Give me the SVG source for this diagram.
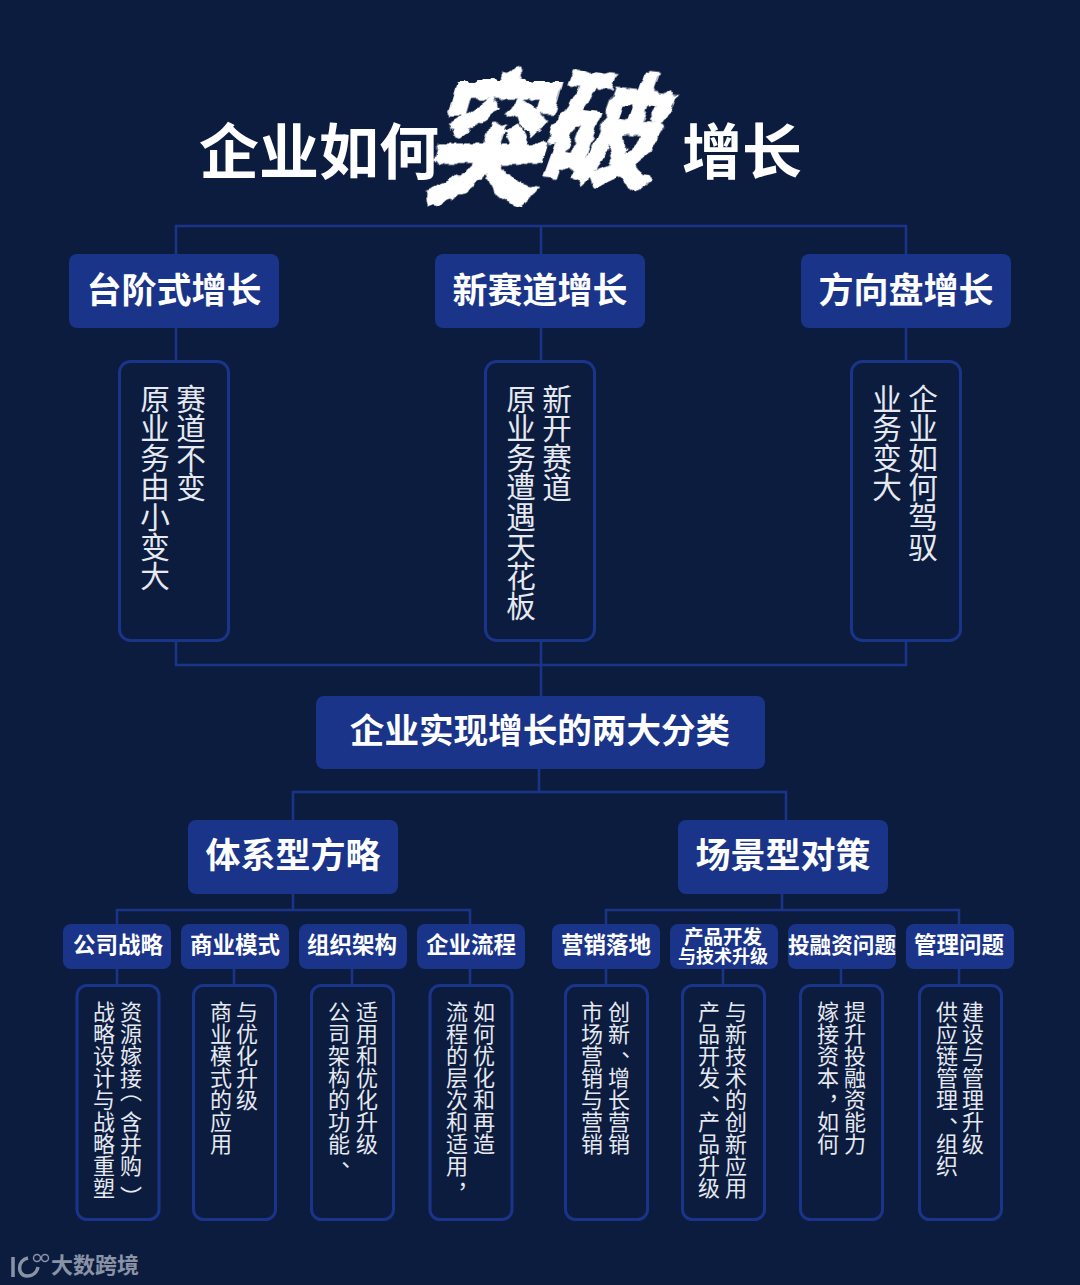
<svg xmlns="http://www.w3.org/2000/svg" width="1080" height="1285" viewBox="0 0 1080 1285">
<style>
text{font-family:"Noto Sans CJK SC","Noto Sans",sans-serif;fill:#fff}
.t{font-weight:700;text-anchor:middle;dominant-baseline:central}
.n{fill:#1a3489}
.b{fill:none;stroke:#1a3489;stroke-width:3}
.c{fill:none;stroke:#1a3489;stroke-width:2.5}
.v{writing-mode:vertical-rl;fill:#e6e9f0}
.big{font-size:29.6px}
.sm{font-size:22px}
.h1{font-size:60px}.h2{font-size:35px}.h3{font-size:22.5px}
.brush{stroke:#fff;stroke-width:3;filter:url(#rough)}
</style>
<defs>
<filter id="rough" x="-20%" y="-20%" width="140%" height="140%">
<feTurbulence type="fractalNoise" baseFrequency="0.09" numOctaves="2" seed="4"/>
<feDisplacementMap in="SourceGraphic" scale="9" xChannelSelector="R" yChannelSelector="G"/>
</filter>
</defs>
<rect width="1080" height="1285" fill="#0c1c3f"/>
<g id="connectors">
<path class="c" d="M176 254V226H906V254M541 226V254M176 328V361M541 328V361M906 328V361M176 641V665H906V641M541 641V696M539 769V792M293 820V792H786V820M293 894V910M117 924V910H470V924M117 968V985M234 968V985M352 968V985M470 968V985M782 894V910M606 924V910H959V924M606 968V985M723 968V985M841 968V985M959 968V985"/>
</g>
<g id="title">
<text class="t h1" x="319" y="147">企业如何</text>
<text class="t h1" x="742" y="147">增长</text>
<text class="t brush" font-size="118" transform="translate(497,130) skewX(-16) scale(1,1.22)" x="0" y="0">突</text>
<text class="t brush" font-size="122" transform="translate(612,122) skewX(-14) rotate(6)" x="0" y="0">破</text>
</g>
<g id="node-step"><rect class="n" x="69" y="254" width="210" height="74" rx="8"/><text class="t h2" x="174" y="287">台阶式增长</text></g>
<g id="node-track"><rect class="n" x="435" y="254" width="210" height="74" rx="8"/><text class="t h2" x="540" y="287">新赛道增长</text></g>
<g id="node-wheel"><rect class="n" x="801" y="254" width="210" height="74" rx="8"/><text class="t h2" x="906" y="287">方向盘增长</text></g>
<g id="desc-step"><rect class="b" x="119.500" y="361.500" width="109" height="279" rx="11"/><text class="v big" x="191" y="383.500">赛道不变</text><text class="v big" x="155" y="383.500">原业务由小变大</text></g>
<g id="desc-track"><rect class="b" x="485.500" y="361.500" width="109" height="279" rx="11"/><text class="v big" x="557" y="383.500">新开赛道</text><text class="v big" x="521" y="383.500">原业务遭遇天花板</text></g>
<g id="desc-wheel"><rect class="b" x="851.500" y="361.500" width="109" height="279" rx="11"/><text class="v big" x="923" y="383.500">企业如何驾驭</text><text class="v big" x="887" y="383.500">业务变大</text></g>
<g id="node-center"><rect class="n" x="316" y="696" width="449" height="73" rx="8"/><text class="t" font-size="34.600" x="540" y="728">企业实现增长的两大分类</text></g>
<g id="node-system"><rect class="n" x="188" y="820" width="210" height="74" rx="8"/><text class="t h2" x="293" y="852">体系型方略</text></g>
<g id="node-scene"><rect class="n" x="678" y="820" width="210" height="74" rx="8"/><text class="t h2" x="783" y="852">场景型对策</text></g>

<g id="s1"><rect class="n" x="63" y="924" width="108" height="45" rx="8"/><text class="t h3" x="118" y="943">公司战略</text></g>
<g id="s2"><rect class="n" x="181" y="924" width="108" height="45" rx="8"/><text class="t h3" x="235" y="943">商业模式</text></g>
<g id="s3"><rect class="n" x="299" y="924" width="108" height="45" rx="8"/><text class="t h3" x="352" y="943">组织架构</text></g>
<g id="s4"><rect class="n" x="417" y="924" width="108" height="45" rx="8"/><text class="t h3" x="471" y="943">企业流程</text></g>
<g id="s5"><rect class="n" x="552" y="924" width="108" height="45" rx="8"/><text class="t h3" x="606" y="943">营销落地</text></g>
<g id="s6"><rect class="n" x="670" y="924" width="108" height="45" rx="8"/><text class="t" font-size="19.500" x="723" y="935">产品开发</text><text class="t" font-size="18" x="723" y="955">与技术升级</text></g>
<g id="s7"><rect class="n" x="788" y="924" width="108" height="45" rx="8"/><text class="t" font-size="21.600" x="842" y="943">投融资问题</text></g>
<g id="s8"><rect class="n" x="906" y="924" width="108" height="45" rx="8"/><text class="t h3" x="959" y="943">管理问题</text></g>

<g id="d1"><rect class="b" x="77" y="985.500" width="82" height="234" rx="10"/><text class="v sm" x="131" y="1001">资源嫁接<tspan dy="-9">（</tspan><tspan dy="9">含并购</tspan><tspan dy="9">）</tspan></text><text class="v sm" x="104" y="1001">战略设计与战略重塑</text></g>
<g id="d2"><rect class="b" x="193.500" y="985.500" width="82" height="234" rx="10"/><text class="v sm" x="247" y="1001">与优化升级</text><text class="v sm" x="221" y="1001">商业模式的应用</text></g>
<g id="d3"><rect class="b" x="311.500" y="985.500" width="82" height="234" rx="10"/><text class="v sm" x="367" y="1001">适用和优化升级</text><text class="v sm" x="339" y="1001">公司架构的功能<tspan dy="6">、</tspan></text></g>
<g id="d4"><rect class="b" x="430" y="985.500" width="82" height="234" rx="10"/><text class="v sm" x="484" y="1001">如何优化和再造</text><text class="v sm" x="457" y="1001">流程的层次和适用<tspan dy="6">，</tspan></text></g>
<g id="d5"><rect class="b" x="565.500" y="985.500" width="82" height="234" rx="10"/><text class="v sm" x="619" y="1001">创新<tspan dy="6">、</tspan><tspan dy="-6">增长营销</tspan></text><text class="v sm" x="592" y="1001">市场营销与营销</text></g>
<g id="d6"><rect class="b" x="682.500" y="985.500" width="82" height="234" rx="10"/><text class="v sm" x="736" y="1001">与新技术的创新应用</text><text class="v sm" x="709" y="1001">产品开发<tspan dy="6">、</tspan><tspan dy="-6">产品升级</tspan></text></g>
<g id="d7"><rect class="b" x="800.500" y="985.500" width="82" height="234" rx="10"/><text class="v sm" x="855" y="1001">提升投融资能力</text><text class="v sm" x="828" y="1001">嫁接资本<tspan dy="6">，</tspan><tspan dy="-6">如何</tspan></text></g>
<g id="d8"><rect class="b" x="919.500" y="985.500" width="82" height="234" rx="10"/><text class="v sm" x="973" y="1001">建设与管理升级</text><text class="v sm" x="947" y="1001">供应链管理<tspan dy="6">、</tspan><tspan dy="-6">组织</tspan></text></g>

<g id="watermark">
<path d="M13 1257V1277M28 1258C17 1260 17 1276 27 1276C33 1276 37 1272 38 1267" fill="none" stroke="#8a93a5" stroke-width="3.500"/>
<circle cx="37" cy="1258" r="3.500" fill="none" stroke="#8a93a5" stroke-width="1.500"/>
<circle cx="45" cy="1258" r="3.500" fill="none" stroke="#8a93a5" stroke-width="1.500"/>
<text x="51" y="1263" font-size="22" font-weight="700" style="fill:#8a93a5;dominant-baseline:central">大数跨境</text>
</g>
</svg>
